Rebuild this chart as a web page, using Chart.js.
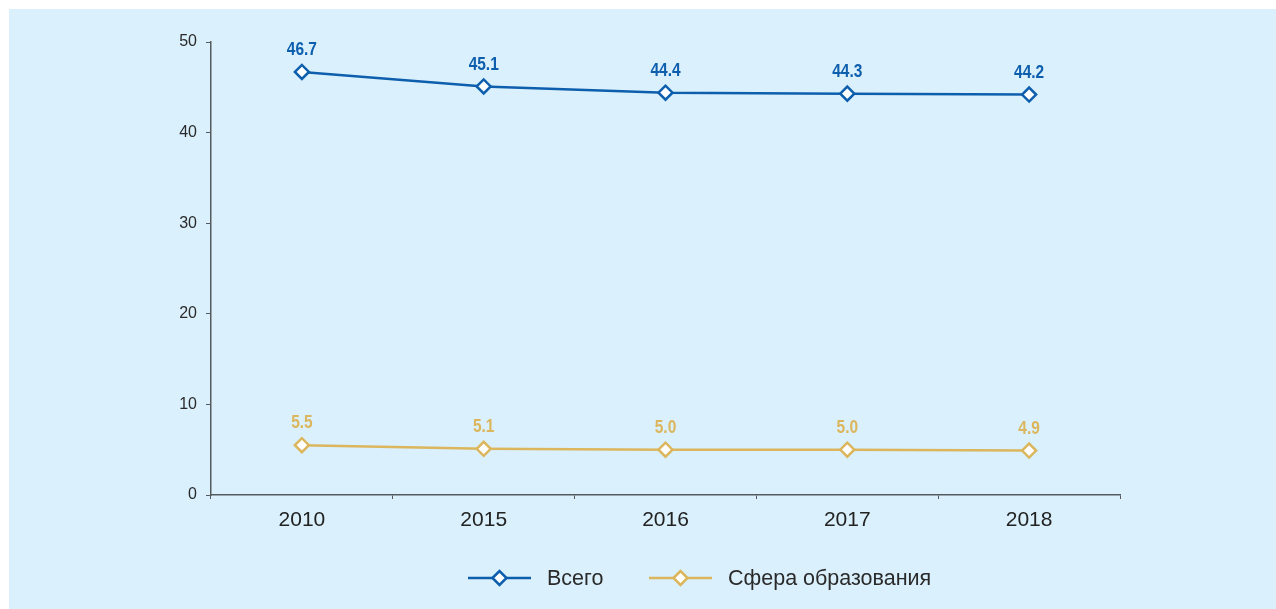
<!DOCTYPE html>
<html>
<head>
<meta charset="utf-8">
<script src="https://cdn.jsdelivr.net/npm/chart.js@4/dist/chart.umd.min.js"></script>
<style>
  html, body { margin: 0; padding: 0; background: #ffffff; }
  #wrap { position: absolute; left: 9px; top: 9px; width: 1267px; height: 600px; background: #daf0fc; }
  canvas { display: block; }
</style>
</head>
<body>
<div id="wrap"><canvas id="c" width="1267" height="600"></canvas></div>
<script>
const categories = ['2010', '2015', '2016', '2017', '2018'];
const totalValues = [46.7, 45.1, 44.4, 44.3, 44.2];
const educationValues = [5.5, 5.1, 5.0, 5.0, 4.9];
const seriesNames = ['Всего', 'Сфера образования'];
const yTicks = [0, 10, 20, 30, 40, 50];

const BLUE = '#0e5eae';
const GOLD = '#dcb65c';
const AXIS = '#555a5e';

const valueLabels = {
  id: 'valueLabels',
  afterDatasetsDraw(chart) {
    const ctx = chart.ctx;
    const sx = 0.86;
    chart.data.datasets.forEach((ds, i) => {
      const meta = chart.getDatasetMeta(i);
      meta.data.forEach((pt, j) => {
        ctx.save();
        ctx.font = 'bold 18px "Liberation Sans", Arial, sans-serif';
        ctx.textAlign = 'center';
        ctx.textBaseline = 'middle';
        ctx.fillStyle = ds.borderColor;
        ctx.translate(pt.x, pt.y - 22);
        ctx.scale(sx, 1.05);
        ctx.fillText(ds.data[j].toFixed(1), 0, 0);
        ctx.restore();
      });
    });
  }
};

const customLegend = {
  id: 'customLegend',
  afterDraw(chart) {
    const ctx = chart.ctx;
    const y = 569;
    const items = [
      { x: 459, ds: chart.data.datasets[0] },
      { x: 640, ds: chart.data.datasets[1] }
    ];
    ctx.save();
    items.forEach(it => {
      const c = it.ds.borderColor;
      ctx.strokeStyle = c;
      ctx.lineWidth = 2.5;
      ctx.beginPath();
      ctx.moveTo(it.x, y);
      ctx.lineTo(it.x + 63, y);
      ctx.stroke();
      const cx = it.x + 31.5, r = 7;
      ctx.beginPath();
      ctx.moveTo(cx - r, y);
      ctx.lineTo(cx, y - r);
      ctx.lineTo(cx + r, y);
      ctx.lineTo(cx, y + r);
      ctx.closePath();
      ctx.fillStyle = '#ffffff';
      ctx.fill();
      ctx.stroke();
      ctx.fillStyle = '#2a2a2a';
      ctx.font = '21.5px "Liberation Sans", Arial, sans-serif';
      ctx.textAlign = 'left';
      ctx.textBaseline = 'middle';
      ctx.fillText(it.ds.label, it.x + 79, y + 1);
    });
    ctx.restore();
  }
};

new Chart(document.getElementById('c'), {
  type: 'line',
  data: {
    labels: categories,
    datasets: [
      {
        label: seriesNames[0],
        data: totalValues,
        borderColor: BLUE,
        backgroundColor: BLUE,
        borderWidth: 2.5,
        pointStyle: 'rectRot',
        pointRadius: 7,
        pointBorderWidth: 2.5,
        pointBackgroundColor: '#ffffff',
        pointBorderColor: BLUE,
        tension: 0
      },
      {
        label: seriesNames[1],
        data: educationValues,
        borderColor: GOLD,
        backgroundColor: GOLD,
        borderWidth: 2.5,
        pointStyle: 'rectRot',
        pointRadius: 7,
        pointBorderWidth: 2.5,
        pointBackgroundColor: '#ffffff',
        pointBorderColor: GOLD,
        tension: 0
      }
    ]
  },
  options: {
    responsive: false,
    animation: false,
    layout: { padding: { left: 0, right: 156, top: 33, bottom: 0 } },
    plugins: {
      legend: { display: false },
      tooltip: { enabled: false }
    },
    scales: {
      x: {
        type: 'category',
        offset: true,
        grid: { display: true, offset: true, drawOnChartArea: false, drawTicks: true, tickLength: 4, color: AXIS, lineWidth: 1 },
        border: { display: true, color: AXIS, width: 1.5 },
        ticks: { color: '#222222', font: { family: '"Liberation Sans", Arial, sans-serif', size: 21 }, padding: 9 },
        afterFit(scale) { scale.height = 114; }
      },
      y: {
        min: 0,
        max: 50,
        afterBuildTicks(scale) { scale.ticks = yTicks.map(v => ({ value: v })); },
        grid: { display: true, drawOnChartArea: false, drawTicks: true, tickLength: 5, color: AXIS, lineWidth: 1 },
        border: { display: true, color: AXIS, width: 1.5 },
        ticks: { color: '#2a2a2a', font: { family: '"Liberation Sans", Arial, sans-serif', size: 16 }, padding: 9 },
        afterFit(scale) { scale.width = 202; }
      }
    }
  },
  plugins: [valueLabels, customLegend]
});
</script>
</body>
</html>
